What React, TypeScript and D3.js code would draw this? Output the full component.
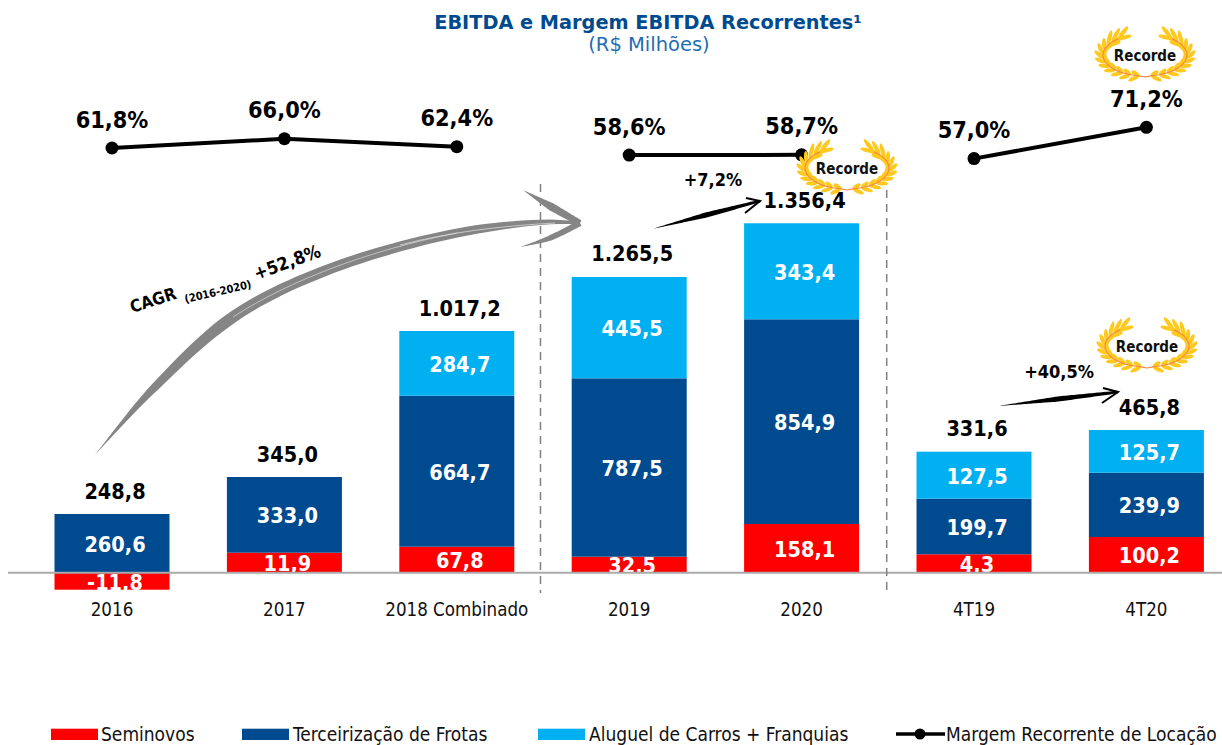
import React from "react";
import * as d3 from "d3";

const categories = ["2016", "2017", "2018 Combinado", "2019", "2020", "4T19", "4T20"];
// Values printed on the chart
const seminovosLabels = ["-11,8", "11,9", "67,8", "32,5", "158,1", "4,3", "100,2"];
const frotasLabels = ["260,6", "333,0", "664,7", "787,5", "854,9", "199,7", "239,9"];
const carrosLabels = ["", "", "284,7", "445,5", "343,4", "127,5", "125,7"];
const totalLabels = ["248,8", "345,0", "1.017,2", "1.265,5", "1.356,4", "331,6", "465,8"];
// Bar heights (the source is not drawn to its printed values)
const seminovosDrawn = [-74.8, 88, 114.4, 70.4, 214.3, 81, 157];
const frotasDrawn = [258.2, 333, 664.3, 784.9, 900.6, 244.6, 282.9];
const carrosDrawn = [0, 0, 284.6, 445.7, 422.4, 206.8, 187.9];
const margemGroups = [[0, 1, 2], [3, 4], [5, 6]];
const margem = [61.8, 66.0, 62.4, 58.6, 58.7, 57.0, 71.2];
const margemLabels = ["61,8%", "66,0%", "62,4%", "58,6%", "58,7%", "57,0%", "71,2%"];

const RED = "#ff0000";
const BLUE = "#004a8f";
const SKY = "#00b0f0";
const COND = "'DejaVu Sans Condensed','DejaVu Sans',sans-serif";
const WIDE = "'DejaVu Sans',sans-serif";

const x = d3.scaleBand<string>().domain(categories).range([25.8, 1232.6]).paddingInner(1 - 115 / 172.4).paddingOuter((1 - 115 / 172.4) / 2);
const y = d3.scaleLinear().domain([0, 1000]).range([572.7, 345.4]);
const yM = d3.scaleLinear().domain([57, 71.2]).range([158.6, 127.3]);

const wreathAngles = [98, 110, 122, 134, 146, 158, 170, 182, 194, 206, 218, 230];

function Wreath({ cx, cy }: { cx: number; cy: number }) {
  const rx = 42, ry = 21;
  const pt = (a: number, s: number) => {
    const r = (a * Math.PI) / 180;
    return [s * rx * Math.cos(r), ry * Math.sin(r)] as [number, number];
  };
  const leaf = (px: number, py: number, ang: number, len: number) => (
    <ellipse cx={px + Math.cos(ang) * len / 2} cy={py + Math.sin(ang) * len / 2} rx={len / 2} ry={2.1}
      transform={`rotate(${(ang * 180) / Math.PI} ${px + Math.cos(ang) * len / 2} ${py + Math.sin(ang) * len / 2})`} fill="#ffc91f" />
  );
  const stem = d3.line().curve(d3.curveCatmullRom);
  return (
    <g transform={`translate(${cx},${cy})`}>
      {[1, -1].map((s) => (
        <g key={s}>
          {wreathAngles.map((a, i) => {
            const [px, py] = pt(a, s);
            const r = (a * Math.PI) / 180;
            const tx = s * rx * -Math.sin(r), ty = ry * Math.cos(r);
            const t = Math.atan2(ty, tx);
            const outward = s > 0 ? -0.5 : 0.5;
            const inward = s > 0 ? 0.5 : -0.5;
            return (
              <g key={a}>
                {leaf(px, py, t + outward, i > 8 ? 16 : 12)}
                {leaf(px, py, t + inward * (i > 9 ? 0.3 : 1), i > 8 ? 14 : 9)}
              </g>
            );
          })}
          <path d={stem([[0, 22], ...wreathAngles.map((a) => pt(a, s))])!} fill="none" stroke="#f58b3e" strokeWidth={1.2} />
        </g>
      ))}
      <text x={0} y={1} textAnchor="middle" dominantBaseline="middle" fontFamily={COND} fontWeight={700} fontSize={15} fill="#111">Recorde</text>
    </g>
  );
}

const bigArrowCenter: [number, number][] = [[95, 455], [152, 390], [233, 317], [327, 270], [457, 233], [547, 222], [578, 223]];
const bigArrowHalf = [0, 4.2, 5.8, 5.4, 5, 4.2, 1.5];

function taper(pts: [number, number][], half: number[]) {
  const sampler = d3.line().curve(d3.curveCatmullRom);
  const el = document.createElementNS("http://www.w3.org/2000/svg", "path");
  el.setAttribute("d", sampler(pts)!);
  const total = el.getTotalLength();
  const n = 60;
  const top: [number, number][] = [], bot: [number, number][] = [];
  const halfAt = d3.scaleLinear().domain(half.map((_, i) => i / (half.length - 1))).range(half);
  for (let i = 0; i <= n; i++) {
    const l = (i / n) * total;
    const p = el.getPointAtLength(l);
    const q = el.getPointAtLength(Math.min(total, l + 1));
    const p0 = el.getPointAtLength(Math.max(0, l - 1));
    const dx = q.x - p0.x, dy = q.y - p0.y, m = Math.hypot(dx, dy) || 1;
    const h = halfAt(i / n);
    top.push([p.x + (dy / m) * h, p.y - (dx / m) * h]);
    bot.push([p.x - (dy / m) * h, p.y + (dx / m) * h]);
  }
  return "M" + [...top, ...bot.reverse()].map((d) => d.join(",")).join("L") + "Z";
}

function SmallArrow({ a, b, c, d }: { a: [number, number]; b: [number, number]; c: [number, number]; d: [number, number] }) {
  const line = d3.line();
  return (
    <g>
      <path d={taper([a, [(a[0] + b[0]) / 2, (a[1] + b[1]) / 2], b], [0, 2.6, 1.3])} fill="#000" />
      <path d={line([c, b, d])!} fill="none" stroke="#000" strokeWidth={2} />
    </g>
  );
}

const Lab = ({ x: px, y: py, t, fs = 21.5, fill = "#000", family = COND, weight = 700, rot = 0, anchor = "middle" }: any) => (
  <text x={px} y={py} fontSize={fs} fill={fill} fontFamily={family} fontWeight={weight} textAnchor={anchor}
    dominantBaseline="central" transform={rot ? `rotate(${rot} ${px} ${py})` : undefined}>{t}</text>
);

export default function App() {
  const line = d3.line<number>().x((i) => x.bandwidth() / 2 + x(categories[i])!).y((i) => yM(margem[i]));
  const center = (i: number) => x(categories[i])! + x.bandwidth() / 2;
  const barW = x.bandwidth();
  const stacks = categories.map((_, i) => {
    const r = seminovosDrawn[i];
    const base = Math.max(r, 0);
    return {
      red: [Math.min(r, 0), Math.max(r, 0)],
      blue: [base, base + frotasDrawn[i]],
      sky: [base + frotasDrawn[i], base + frotasDrawn[i] + carrosDrawn[i]],
    };
  });
  const legend = [
    { c: RED, t: "Seminovos", x0: 51, tx: 101 },
    { c: BLUE, t: "Terceirização de Frotas", x0: 242, tx: 293 },
    { c: SKY, t: "Aluguel de Carros + Franquias", x0: 538, tx: 589 },
  ];
  return (
    <svg width={1222} height={745} style={{ position: "absolute", left: 0, top: 0, display: "block", background: "#fff" }}>
      <text x={648} y={22} textAnchor="middle" dominantBaseline="central" fontFamily={WIDE} fontWeight={700} fontSize={19.3} fill={BLUE}>EBITDA e Margem EBITDA Recorrentes¹</text>
      <text x={649} y={44} textAnchor="middle" dominantBaseline="central" fontFamily={WIDE} fontSize={19.5} fill="#1f6db3">(R$ Milhões)</text>

      {categories.map((c, i) => {
        const s = stacks[i];
        const L = x(c)!;
        const lx = center(i) + 3;
        const segs: [number[], string, string][] = [[s.red, RED, seminovosLabels[i]], [s.blue, BLUE, frotasLabels[i]], [s.sky, SKY, carrosLabels[i]]];
        return (
          <g key={c}>
            {segs.map(([v, col], k) => v[1] > v[0] && (
              <rect key={k} x={L} width={barW} y={y(v[1])} height={y(v[0]) - y(v[1])} fill={col} />
            ))}
            {segs.map(([v, , t], k) => t && (
              <Lab key={k} x={lx} y={(y(v[0]) + y(v[1])) / 2 + 1} t={t} fill="#fff" />
            ))}
            <Lab x={lx} y={y(s.sky[1]) - 23} t={totalLabels[i]} />
            <Lab x={center(i)} y={609} t={c} fs={18.6} weight={400} fill="#111" />
          </g>
        );
      })}

      <line x1={8} x2={1222} y1={572.7} y2={572.7} stroke="#aaaaaa" strokeWidth={2} />
      {[540.5, 886.7].map((lx, i) => (
        <line key={lx} x1={lx} x2={lx} y1={i ? 190 : 184} y2={593} stroke="#808080" strokeWidth={1.5} strokeDasharray="8 6" />
      ))}

      <path d={taper(bigArrowCenter, bigArrowHalf)} fill="#858585" />
      <path d="M233,317C290,280 370,250 457,233" fill="none" stroke="#d8d8d8" strokeWidth={0.7} />
      <path d="M400,245C450,232 500,226 555,223" fill="none" stroke="#e4e4e4" strokeWidth={0.7} />
      <path d={taper([[523, 190], [550, 206], [580, 223]], [0, 4, 3])} fill="#858585" />
      <path d={taper([[520, 247], [550, 238], [580, 223]], [0, 2.8, 3])} fill="#858585" />

      <Lab x={153} y={300} t="CAGR" fs={17} rot={-18} />
      <Lab x={218} y={292} t="(2016-2020)" fs={11} rot={-13} />
      <Lab x={287} y={262} t="+52,8%" fs={18} rot={-20} />

      <SmallArrow a={[652, 229]} b={[760, 201]} c={[746, 198]} d={[745, 213]} />
      <SmallArrow a={[998, 406]} b={[1118, 392]} c={[1103, 388]} d={[1102, 403]} />
      <Lab x={713} y={179} t="+7,2%" fs={18} />
      <Lab x={1059} y={371} t="+40,5%" fs={18} />

      {margemGroups.map((g, k) => (
        <path key={k} d={line(g)!} fill="none" stroke="#000" strokeWidth={4} />
      ))}
      {margem.map((m, i) => (
        <g key={i}>
          <circle cx={center(i)} cy={yM(m)} r={6.5} fill="#000" />
          <Lab x={center(i)} y={yM(m) - 29} t={margemLabels[i]} fs={23.3} />
        </g>
      ))}

      <Wreath cx={847} cy={168} />
      <Wreath cx={1145} cy={55} />
      <Wreath cx={1147} cy={346} />

      {legend.map((l) => (
        <g key={l.t}>
          <rect x={l.x0} y={728.7} width={47} height={11.3} fill={l.c} />
          <Lab x={l.tx} y={734} t={l.t} fs={19} weight={400} anchor="start" fill="#111" />
        </g>
      ))}
      <line x1={896} x2={945} y1={734} y2={734} stroke="#000" strokeWidth={3.5} />
      <circle cx={920} cy={734} r={5.5} fill="#000" />
      <Lab x={946} y={734} t="Margem Recorrente de Locação" fs={19} weight={400} anchor="start" fill="#111" />
    </svg>
  );
}
